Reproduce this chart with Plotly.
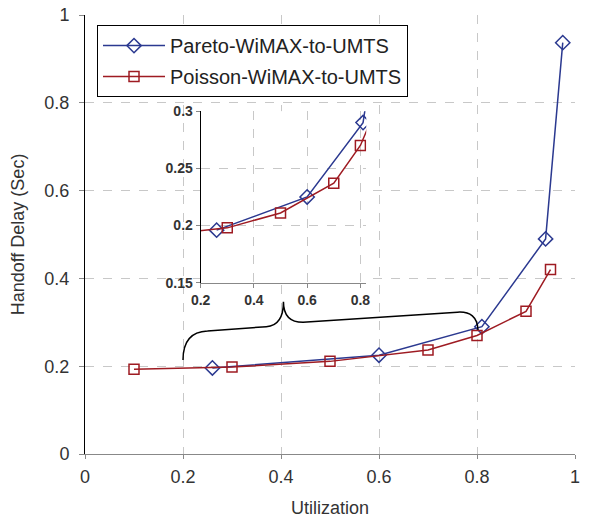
import plotly.graph_objects as go

# Data
pareto_x = [0.26, 0.60, 0.81, 0.94, 0.975]
pareto_y = [0.196, 0.225, 0.290, 0.490, 0.937]
poisson_x = [0.10, 0.30, 0.50, 0.70, 0.80, 0.90, 0.95]
poisson_y = [0.193, 0.198, 0.211, 0.237, 0.270, 0.325, 0.420]

main_ticks = [0, 0.2, 0.4, 0.6, 0.8, 1]
main_ticktext = ["0", "0.2", "0.4", "0.6", "0.8", "1"]
inset_xticks = [0.2, 0.4, 0.6, 0.8]
inset_xticktext = ["0.2", "0.4", "0.6", "0.8"]
inset_yticks = [0.15, 0.2, 0.25, 0.3]
inset_yticktext = ["0.15", "0.2", "0.25", "0.3"]

BLUE = "#2B3990"
RED = "#9E1B22"
FONT = "Arial, Liberation Sans, sans-serif"

fig = go.Figure()

for xa, ya, show in [("x", "y", True), ("x2", "y2", False)]:
    fig.add_trace(go.Scatter(
        x=pareto_x, y=pareto_y, mode="lines+markers", name="Pareto-WiMAX-to-UMTS",
        line=dict(color=BLUE, width=1.5),
        marker=dict(symbol="diamond-open", size=11, color=BLUE, line=dict(width=1.5)),
        xaxis=xa, yaxis=ya, showlegend=show, legendgroup="a",
    ))
    fig.add_trace(go.Scatter(
        x=poisson_x, y=poisson_y, mode="lines+markers", name="Poisson-WiMAX-to-UMTS",
        line=dict(color=RED, width=1.5),
        marker=dict(symbol="square-open", size=10, color=RED, line=dict(width=1.5)),
        xaxis=xa, yaxis=ya, showlegend=show, legendgroup="b",
    ))

# Curly brace annotation (data coordinates of main axes)
brace = ("M 0.200,0.214 Q 0.200,0.278 0.250,0.280 L 0.370,0.290 "
         "Q 0.405,0.293 0.405,0.347 Q 0.405,0.300 0.445,0.300 "
         "L 0.760,0.323 Q 0.800,0.326 0.802,0.283")
fig.add_shape(type="path", path=brace, xref="x", yref="y",
              line=dict(color="black", width=1.5), layer="above")

grid = dict(showgrid=True, gridcolor="#C8C8C8", griddash="dash", gridwidth=1)
inset_font = dict(size=14, color="#333333", family=FONT, weight="bold")

fig.update_layout(
    width=589, height=521,
    margin=dict(l=85, r=14, t=15, b=67, autoexpand=False),
    paper_bgcolor="white", plot_bgcolor="white",
    font=dict(family=FONT, size=18, color="#333333"),
    showlegend=True,
    legend=dict(x=0.0245, y=0.977, xanchor="left", yanchor="top",
                bgcolor="white", bordercolor="black", borderwidth=1,
                font=dict(size=20, color="#222222"), tracegroupgap=2,
                itemwidth=62),
    xaxis=dict(range=[0, 1], tickvals=main_ticks, ticktext=main_ticktext,
               showline=True, linecolor="#888888", ticks="outside", ticklen=4,
               tickcolor="#888888", zeroline=False, automargin=False,
               ticklabelstandoff=2,
               title=dict(text="Utilization", font=dict(size=18)), **grid),
    yaxis=dict(range=[0, 1], tickvals=main_ticks, ticktext=main_ticktext,
               showline=True, linecolor="black", ticks="outside", ticklen=5,
               tickcolor="#888888", zeroline=False, automargin=False,
               ticklabelstandoff=6,
               title=dict(text="Handoff Delay (Sec)", font=dict(size=18)), **grid),
    xaxis2=dict(domain=[0.236, 0.574], range=[0.2, 0.822], anchor="y2",
                tickvals=inset_xticks, ticktext=inset_xticktext,
                showline=True, linecolor="#888888", ticks="outside", ticklen=4,
                tickcolor="#888888", zeroline=False, automargin=False,
                tickfont=inset_font, **grid),
    yaxis2=dict(domain=[0.390, 0.781], range=[0.15, 0.3], anchor="x2",
                tickvals=inset_yticks, ticktext=inset_yticktext,
                showline=True, linecolor="black", ticks="outside", ticklen=4,
                tickcolor="#888888", zeroline=False, automargin=False,
                tickfont=inset_font, **grid),
)

fig.write_html("out.html",
               config={"displayModeBar": False},
               post_script="document.body.style.margin='0px';document.body.style.overflow='hidden';")
